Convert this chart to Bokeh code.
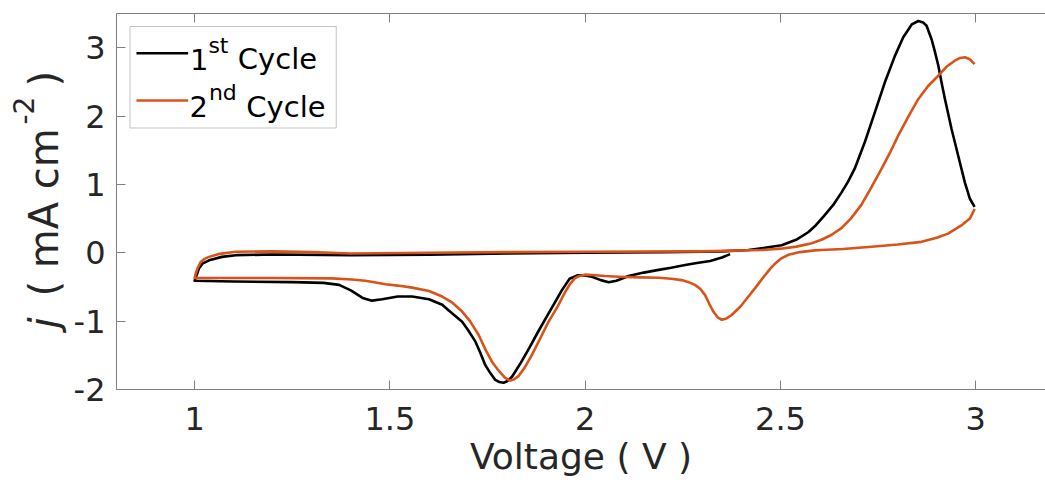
from math import pi
from bokeh.plotting import figure
from bokeh.layouts import row
from bokeh.models import Range1d, FixedTicker, LinearAxis, Label, BoxAnnotation, Arrow
from bokeh.embed import file_html
from bokeh.resources import INLINE

# ---------------- data ----------------
series_names = ["1st Cycle", "2nd Cycle"]
series_colors = ["#000000", "#D95319"]

# 1st cycle: starts near 2.37 V, sweeps down to 1.0 V, then up to 3.0 V
cycle1_v = [2.371, 2.35, 2.32, 2.286, 2.256, 2.22, 2.188, 2.15, 2.111, 2.08, 2.06, 2.04,
            2.017, 1.995, 1.98, 1.96, 1.94, 1.92, 1.90, 1.878, 1.857, 1.835, 1.813, 1.80,
            1.791, 1.78, 1.77, 1.757, 1.744, 1.732, 1.719, 1.70, 1.685, 1.65, 1.634, 1.60,
            1.557, 1.52, 1.48, 1.454, 1.43, 1.40, 1.37, 1.33, 1.25, 1.1, 1.0,
            1.005, 1.011, 1.02, 1.037, 1.07, 1.105, 1.2, 1.4, 1.6, 1.8, 2.0, 2.2, 2.35, 2.418,
            2.456, 2.503, 2.54, 2.571, 2.59, 2.61, 2.635, 2.656, 2.673, 2.69, 2.716, 2.742, 2.767,
            2.793, 2.814, 2.836, 2.853, 2.865, 2.874, 2.887, 2.895, 2.904, 2.912, 2.921, 2.938,
            2.955, 2.972, 2.985, 2.997]
cycle1_j = [-0.02, -0.07, -0.12, -0.15, -0.18, -0.22, -0.25, -0.29, -0.34, -0.41, -0.43, -0.40,
            -0.35, -0.33, -0.33, -0.38, -0.55, -0.75, -0.95, -1.17, -1.39, -1.61, -1.81, -1.88,
            -1.90, -1.89, -1.86, -1.76, -1.64, -1.47, -1.30, -1.13, -1.01, -0.84, -0.76, -0.68,
            -0.64, -0.64, -0.68, -0.70, -0.66, -0.55, -0.47, -0.44, -0.43, -0.42, -0.41,
            -0.33, -0.23, -0.16, -0.11, -0.06, -0.035, -0.025, -0.035, -0.03, -0.01, 0.0, 0.01, 0.02, 0.04,
            0.07, 0.11, 0.19, 0.30, 0.40, 0.53, 0.70, 0.88, 1.04, 1.23, 1.62, 2.06, 2.49,
            2.88, 3.15, 3.34, 3.39, 3.37, 3.32, 3.12, 2.95, 2.74, 2.50, 2.25, 1.81,
            1.42, 1.03, 0.79, 0.67]

# 2nd cycle: starts at 3.0 V, sweeps down to 1.0 V, then up to 3.0 V
cycle2_v = [2.997, 2.985, 2.963, 2.929, 2.90, 2.861, 2.80, 2.733, 2.66, 2.605, 2.588, 2.55,
            2.52, 2.50, 2.486, 2.473, 2.46, 2.44, 2.418, 2.397, 2.375, 2.362, 2.35, 2.34,
            2.328, 2.318, 2.307, 2.295, 2.281, 2.265, 2.247, 2.22, 2.188, 2.14, 2.085, 2.05,
            2.017, 2.0, 1.985, 1.974, 1.962, 1.949, 1.93, 1.906, 1.885, 1.864, 1.845, 1.83,
            1.818, 1.808, 1.795, 1.787, 1.775, 1.761, 1.745, 1.727, 1.705, 1.685, 1.66, 1.634,
            1.60, 1.557, 1.52, 1.489, 1.46, 1.437, 1.403, 1.35, 1.2, 1.0,
            1.003, 1.008, 1.015, 1.025, 1.037, 1.06, 1.105, 1.2, 1.3, 1.4, 1.6, 1.8, 2.0,
            2.3, 2.45, 2.5, 2.541, 2.58, 2.605, 2.63, 2.656, 2.68, 2.707, 2.733, 2.759, 2.78,
            2.802, 2.828, 2.853, 2.878, 2.904, 2.925, 2.946, 2.96, 2.972, 2.985, 2.997]
cycle2_j = [0.64, 0.50, 0.40, 0.28, 0.22, 0.16, 0.12, 0.087, 0.055, 0.04, 0.035, 0.01,
            -0.03, -0.09, -0.16, -0.24, -0.33, -0.48, -0.64, -0.79, -0.91, -0.96, -0.98, -0.95,
            -0.86, -0.75, -0.62, -0.53, -0.47, -0.43, -0.40, -0.38, -0.365, -0.36, -0.35, -0.34,
            -0.325, -0.32, -0.34, -0.37, -0.45, -0.57, -0.78, -1.01, -1.25, -1.49, -1.68, -1.80,
            -1.85, -1.87, -1.83, -1.78, -1.70, -1.59, -1.42, -1.20, -1.00, -0.86, -0.73, -0.64,
            -0.56, -0.51, -0.48, -0.46, -0.43, -0.41, -0.39, -0.375, -0.37, -0.37,
            -0.30, -0.22, -0.14, -0.09, -0.06, -0.02, 0.015, 0.02, 0.01, -0.01, 0.0, 0.01, 0.015,
            0.02, 0.04, 0.06, 0.09, 0.14, 0.19, 0.26, 0.36, 0.50, 0.70, 0.96, 1.23, 1.46,
            1.72, 2.00, 2.25, 2.44, 2.59, 2.72, 2.81, 2.85, 2.86, 2.83, 2.76]

x_ticks = [1, 1.5, 2, 2.5, 3]
x_tick_labels = ["1", "1.5", "2", "2.5", "3"]
y_ticks = [-2, -1, 0, 1, 2, 3]
y_tick_labels = ["-2", "-1", "0", "1", "2", "3"]
x_label = "Voltage ( V )"
y_label_parts = ["j", "( mA cm", "-2", ")"]

# ---------------- layout ----------------
W, H = 1045, 493
LW = 70                       # width of the strip holding the y title
FL, FR, FT, FB = 115, 1045, 13, 389
X0 = 0.8
X1 = X0 + (FR - FL) / 391.0
Y0, Y1 = -2.0, 3.5
FONT = "DejaVu Sans"
TXT = "#262626"
AX = "#7f7f7f"
BASE = 0.36   # label anchor sits this many em above the text baseline


def dx(px):
    return X0 + (px - FL) / (FR - FL) * (X1 - X0)


def dy(py):
    return Y0 + (FB - py) / (FB - FT) * (Y1 - Y0)


p = figure(width=W - LW, height=H, x_range=Range1d(X0, X1), y_range=Range1d(Y0, Y1),
           output_backend="svg", toolbar_location=None,
           min_border_left=FL - LW, min_border_right=W - FR, min_border_top=FT,
           min_border_bottom=H - FB)
p.xgrid.visible = False
p.ygrid.visible = False
p.outline_line_color = None
p.background_fill_color = "white"
p.border_fill_color = "white"

xa = p.xaxis[0]
ya = p.yaxis[0]
xa.ticker = FixedTicker(ticks=x_ticks)
xa.major_label_overrides = dict(zip(x_ticks, x_tick_labels))
ya.ticker = FixedTicker(ticks=y_ticks)
ya.major_label_overrides = dict(zip(y_ticks, y_tick_labels))
for ax in (xa, ya):
    ax.axis_line_color = AX
    ax.axis_line_width = 1
    ax.major_tick_line_color = AX
    ax.major_tick_in = 9
    ax.major_tick_out = 0
    ax.minor_tick_line_color = None
    ax.major_label_text_font = FONT
    ax.major_label_text_font_size = "32px"
    ax.major_label_text_color = TXT
xa.major_label_standoff = 17
ya.major_label_standoff = 11
xa.axis_label = x_label
xa.axis_label_text_font = FONT
xa.axis_label_text_font_size = "36px"
xa.axis_label_text_font_style = "normal"
xa.axis_label_text_color = TXT
xa.axis_label_standoff = 3

top = LinearAxis(ticker=FixedTicker(ticks=x_ticks),
                 major_label_overrides={t: "" for t in x_ticks},
                 major_label_text_font_size="0px", major_label_standoff=0,
                 axis_line_color=AX, major_tick_line_color=AX,
                 major_tick_in=9, major_tick_out=0, minor_tick_line_color=None)
p.add_layout(top, "above")

p.line(cycle1_v, cycle1_j, line_color=series_colors[0], line_width=2.6, line_join="round")
p.line(cycle2_v, cycle2_j, line_color=series_colors[1], line_width=2.6, line_join="round")

# ---------------- legend (drawn by hand for superscripts) ----------------
p.add_layout(BoxAnnotation(left=dx(128.5), right=dx(335), top=dy(26), bottom=dy(127.5),
                           fill_color="white", fill_alpha=1.0,
                           line_color="#3a3a3a", line_width=1))
for col, yy in zip(series_colors, (52.7, 100.0)):
    p.add_layout(Arrow(x_start=dx(135), y_start=dy(yy), x_end=dx(186.7), y_end=dy(yy),
                       start=None, end=None, line_color=col, line_width=2.6))

# (text, left px, baseline px, font px)
leg_parts = [("1", 188.5, 69.3, 29), ("st", 207.0, 53.0, 22), ("Cycle", 236.5, 69.3, 29),
             ("2", 188.0, 116.7, 29), ("nd", 207.5, 100.3, 22), ("Cycle", 245.0, 116.7, 29)]
for t, px, py, fs in leg_parts:
    p.add_layout(Label(x=dx(px), y=dy(py - BASE * fs), text=t, text_font=FONT,
                       text_font_size=f"{fs}px", text_color="black",
                       text_align="left", text_baseline="alphabetic"))

# ---------------- y title strip (pixel coordinates; frame aligned with main frame) ----------------
q = figure(width=LW, height=H, x_range=Range1d(0, LW), y_range=Range1d(FB, FT),
           x_axis_type=None, y_axis_type=None, output_backend="svg", toolbar_location=None,
           min_border_left=0, min_border_right=0, min_border_top=FT,
           min_border_bottom=H - FB)
q.outline_line_color = None
q.background_fill_color = "white"
q.border_fill_color = "white"

# (text, baseline x px, start y px, font px, style)
ylab_pos = [(y_label_parts[0], 58, 328, 40, "italic"),
            (y_label_parts[1], 58, 296, 40, "normal"),
            (y_label_parts[2], 33, 124.0, 28, "normal"),
            (y_label_parts[3], 58, 86, 40, "normal")]
for t, px, py, fs, st in ylab_pos:
    q.add_layout(Label(x=px - BASE * fs, y=py, text=t, angle=pi / 2, text_font=FONT,
                       text_font_size=f"{fs}px", text_font_style=st, text_color=TXT,
                       text_align="left", text_baseline="alphabetic"))

layout = row(q, p, spacing=0)
open("out.html", "w").write(file_html(layout, INLINE))
